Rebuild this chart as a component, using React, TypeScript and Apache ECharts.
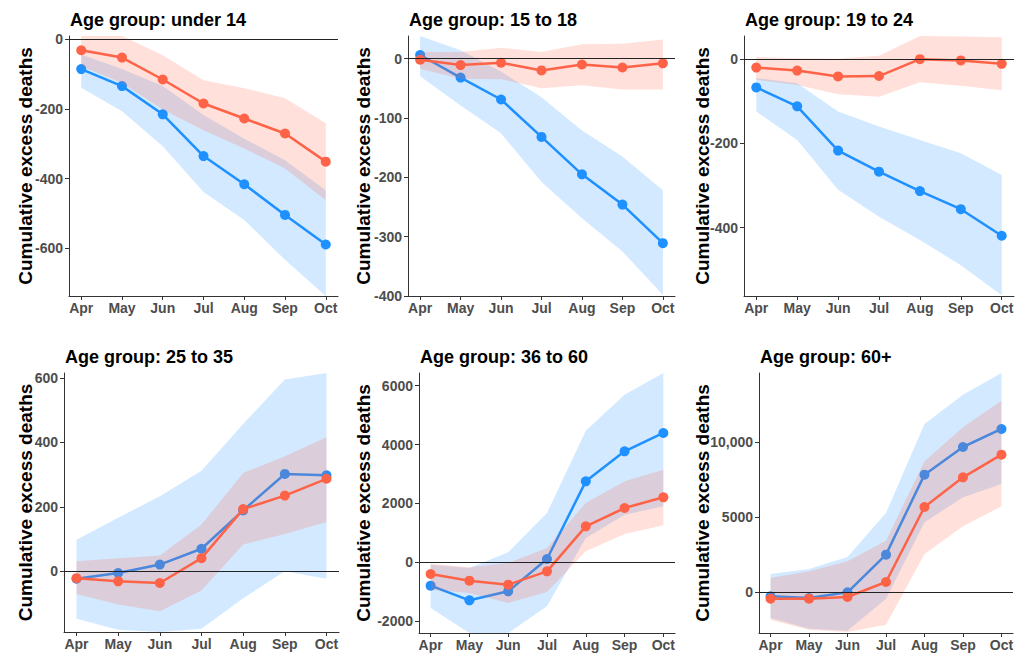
import React, { useEffect, useRef } from "react";
import * as echarts from "echarts";

const months = ["Apr", "May", "Jun", "Jul", "Aug", "Sep", "Oct"];
const titles = [
  "Age group: under 14",
  "Age group: 15 to 18",
  "Age group: 19 to 24",
  "Age group: 25 to 35",
  "Age group: 36 to 60",
  "Age group: 60+",
];

// under 14
const u14Blue = [-85, -134, -215, -335, -416, -504, -589];
const u14BlueHi = [-43, -85, -134, -217, -285, -347, -433];
const u14BlueLo = [-139, -206, -307, -438, -519, -633, -737];
const u14Orange = [-31, -52, -115, -184, -227, -270, -351];
const u14OrangeHi = [10, 10, -45, -117, -140, -169, -241];
const u14OrangeLo = [-77, -125, -201, -261, -313, -371, -462];
const u14Ticks = [-600, -400, -200, 0];

// 15 to 18
const a15Blue = [6, -32, -69, -132, -195, -246, -311];
const a15BlueHi = [38, 14, -22, -65, -121, -165, -222];
const a15BlueLo = [-30, -79, -126, -208, -269, -325, -398];
const a15Orange = [-2, -11, -7, -20, -10, -15, -8];
const a15OrangeHi = [11, 11, 18, 11, 24, 25, 32];
const a15OrangeLo = [-17, -34, -35, -50, -45, -52, -52];
const a15Ticks = [-400, -300, -200, -100, 0];

// 19 to 24
const a19Blue = [-67, -112, -217, -267, -313, -356, -419];
const a19BlueHi = [-45, -57, -124, -160, -192, -223, -275];
const a19BlueLo = [-124, -192, -310, -374, -429, -489, -560];
const a19Orange = [-20, -27, -41, -40, 0, -3, -11];
const a19OrangeHi = [5, 2, 1, 8, 55, 54, 52];
const a19OrangeLo = [-49, -61, -83, -89, -55, -63, -74];
const a19Ticks = [-400, -200, 0];

// 25 to 35
const a25Blue = [-23, -5, 21, 70, 189, 302, 298];
const a25BlueHi = [98, 166, 233, 312, 457, 595, 615];
const a25BlueLo = [-147, -181, -188, -178, -83, 0, -23];
const a25Orange = [-21, -31, -36, 41, 193, 235, 287];
const a25OrangeHi = [31, 41, 49, 145, 305, 357, 416];
const a25OrangeLo = [-70, -103, -124, -59, 83, 116, 153];
const a25Ticks = [0, 200, 400, 600];

// 36 to 60
const a36Blue = [-792, -1290, -985, 113, 2751, 3770, 4393];
const a36BlueHi = [-80, -190, 340, 1675, 4472, 5694, 6430];
const a36BlueLo = [-1551, -2400, -2400, -1494, 826, 1619, 1902];
const a36Orange = [-396, -623, -758, -306, 1223, 1845, 2208];
const a36OrangeHi = [-45, -170, -23, 487, 2015, 2751, 3147];
const a36OrangeLo = [-928, -1041, -1381, -1008, 374, 962, 1257];
const a36Ticks = [-2000, 0, 2000, 4000, 6000];

// 60+
const a60Blue = [-290, -400, -22, 2494, 7840, 9688, 10891];
const a60BlueHi = [1203, 1537, 2339, 5278, 11225, 13185, 14632];
const a60BlueLo = [-1737, -2450, -2583, -445, 4655, 6325, 7216];
const a60Orange = [-445, -445, -334, 668, 5679, 7661, 9176];
const a60OrangeHi = [935, 1381, 2049, 3430, 8730, 11002, 12784];
const a60OrangeLo = [-1849, -2517, -2673, -2183, 2539, 4388, 5724];
const a60Ticks = [0, 5000, 10000];

const panels = [
  { blue: u14Blue, blueHi: u14BlueHi, blueLo: u14BlueLo, orange: u14Orange, orangeHi: u14OrangeHi, orangeLo: u14OrangeLo, ticks: u14Ticks, min: -737, max: 10 },
  { blue: a15Blue, blueHi: a15BlueHi, blueLo: a15BlueLo, orange: a15Orange, orangeHi: a15OrangeHi, orangeLo: a15OrangeLo, ticks: a15Ticks, min: -400, max: 38 },
  { blue: a19Blue, blueHi: a19BlueHi, blueLo: a19BlueLo, orange: a19Orange, orangeHi: a19OrangeHi, orangeLo: a19OrangeLo, ticks: a19Ticks, min: -562, max: 55 },
  { blue: a25Blue, blueHi: a25BlueHi, blueLo: a25BlueLo, orange: a25Orange, orangeHi: a25OrangeHi, orangeLo: a25OrangeLo, ticks: a25Ticks, min: -188, max: 615 },
  { blue: a36Blue, blueHi: a36BlueHi, blueLo: a36BlueLo, orange: a36Orange, orangeHi: a36OrangeHi, orangeLo: a36OrangeLo, ticks: a36Ticks, min: -2400, max: 6430 },
  { blue: a60Blue, blueHi: a60BlueHi, blueLo: a60BlueLo, orange: a60Orange, orangeHi: a60OrangeHi, orangeLo: a60OrangeLo, ticks: a60Ticks, min: -2740, max: 14632 },
];

const grids = [
  { left: 69, top: 36, width: 269, height: 260 },
  { left: 408, top: 36, width: 267, height: 260 },
  { left: 744, top: 36, width: 270, height: 260 },
  { left: 64, top: 373, width: 275, height: 259 },
  { left: 419, top: 373, width: 256, height: 260 },
  { left: 759, top: 373, width: 254, height: 260 },
];

const BLUE = "#1E90FF";
const ORANGE = "#FF6347";
const BLUE_BAND = "rgba(30,144,255,0.2)";
const ORANGE_BAND = "rgba(255,99,71,0.2)";
const FONT = '"Liberation Sans", Arial, sans-serif';

function bandSeries(idx: number, hi: number[], lo: number[], fill: string, z: number) {
  return {
    type: "custom",
    xAxisIndex: idx,
    yAxisIndex: idx,
    silent: true,
    clip: true,
    z,
    data: [[0, 0]],
    renderItem: (_params: any, api: any) => {
      const top = hi.map((v, i) => api.coord([i, v]));
      const bottom = lo.map((v, i) => api.coord([i, v])).reverse();
      return {
        type: "polygon",
        shape: { points: top.concat(bottom) },
        style: { fill },
      };
    },
  };
}

function lineSeries(idx: number, vals: number[], color: string, z: number, zeroLine: boolean) {
  const s: any = {
    type: "line",
    xAxisIndex: idx,
    yAxisIndex: idx,
    data: vals.map((v, i) => [i, v]),
    symbol: "circle",
    symbolSize: 10,
    showSymbol: true,
    silent: true,
    z,
    lineStyle: { color, width: 2.5 },
    itemStyle: { color },
  };
  if (zeroLine) {
    s.markLine = {
      silent: true,
      symbol: "none",
      label: { show: false },
      lineStyle: { color: "#222", width: 1, type: "solid" },
      data: [{ yAxis: 0 }],
    };
  }
  return s;
}

function fmt(v: number) {
  return Math.abs(v) >= 10000 ? v.toLocaleString("en-US") : String(v);
}

export default function App() {
  const ref = useRef<HTMLDivElement>(null);
  useEffect(() => {
    if (!ref.current) return;
    const chart = echarts.init(ref.current, undefined, { renderer: "svg" });
    const axisColor = "#333";
    const labelStyle = { color: "#4d4d4d", fontWeight: "bold", fontSize: 14, fontFamily: FONT };
    const xAxis = grids.map((_, i) => ({
      type: "value",
      gridIndex: i,
      min: -0.3,
      max: 6.3,
      splitLine: { show: false },
      axisLine: { show: true, onZero: false, lineStyle: { color: axisColor, width: 1 } },
      axisTick: { show: true, length: 4, lineStyle: { color: axisColor }, customValues: [0, 1, 2, 3, 4, 5, 6] },
      axisLabel: { ...labelStyle, margin: 5, customValues: [0, 1, 2, 3, 4, 5, 6], formatter: (v: number) => months[Math.round(v)] },
    }));
    const yAxis = panels.map((p, i) => ({
      type: "value",
      gridIndex: i,
      min: p.min,
      max: p.max,
      splitLine: { show: false },
      axisLine: { show: true, onZero: false, lineStyle: { color: axisColor, width: 1 } },
      axisTick: { show: true, length: 4, lineStyle: { color: axisColor }, customValues: p.ticks },
      axisLabel: { ...labelStyle, margin: 6, customValues: p.ticks, formatter: (v: number) => fmt(v) },
    }));
    const series: any[] = [];
    panels.forEach((p, i) => {
      series.push(bandSeries(i, p.blueHi, p.blueLo, BLUE_BAND, 1));
      series.push(lineSeries(i, p.blue, BLUE, 2, true));
      series.push(bandSeries(i, p.orangeHi, p.orangeLo, ORANGE_BAND, 3));
      series.push(lineSeries(i, p.orange, ORANGE, 4, false));
    });
    const graphic: any[] = [];
    grids.forEach((g, i) => {
      const titleY = i < 3 ? 20 : 357;
      graphic.push({
        type: "text",
        x: g.left + 1,
        y: titleY,
        silent: true,
        style: {
          text: titles[i],
          font: `bold 18px ${FONT}`,
          fill: "#000",
          align: "left",
          verticalAlign: "middle",
        },
      });
      const labelX = [25, 363, 702, 25, 363, 702][i];
      graphic.push({
        type: "text",
        x: labelX,
        y: g.top + g.height / 2,
        rotation: Math.PI / 2,
        silent: true,
        style: {
          text: "Cumulative excess deaths",
          font: `bold 19px ${FONT}`,
          fill: "#000",
          align: "center",
          verticalAlign: "middle",
        },
      });
    });
    chart.setOption({
      animation: false,
      backgroundColor: "#fff",
      grid: grids.map((g) => ({ ...g, containLabel: false })),
      xAxis,
      yAxis,
      series,
      graphic,
    });
    return () => chart.dispose();
  }, []);
  return (
    <div
      ref={ref}
      style={{ position: "absolute", left: 0, top: 0, width: 1027, height: 653, background: "#fff" }}
    />
  );
}
